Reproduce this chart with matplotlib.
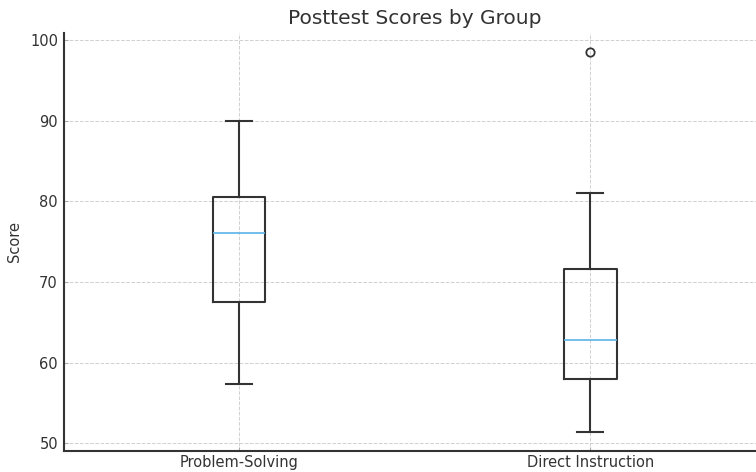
import matplotlib
matplotlib.use("Agg")
import matplotlib.pyplot as plt

# box statistics
groups = ["Problem-Solving", "Direct Instruction"]
whislo = [57.3, 51.4]
q1 = [67.5, 58.0]
med = [76.1, 62.8]
q3 = [80.6, 71.6]
whishi = [90.0, 81.0]
fliers = [[], [98.6]]

stats = []
for i, g in enumerate(groups):
    stats.append({
        "label": g,
        "whislo": whislo[i],
        "q1": q1[i],
        "med": med[i],
        "q3": q3[i],
        "whishi": whishi[i],
        "fliers": fliers[i],
    })

text_col = "#333333"
plt.rcParams["font.family"] = "DejaVu Sans"

fig = plt.figure(figsize=(7.56, 4.72), dpi=100)
ax = fig.add_axes([0.084, 0.0445, 0.929, 0.8865])

ax.bxp(
    stats,
    boxprops=dict(color="#333333", linewidth=1.5),
    whiskerprops=dict(color="#333333", linewidth=1.5),
    capprops=dict(color="#333333", linewidth=1.5),
    medianprops=dict(color="#5ab4e8", linewidth=1.2),
    flierprops=dict(marker="o", markerfacecolor="none", markeredgecolor="#333333",
                    markersize=6, markeredgewidth=1.3),
)

ax.set_title("Posttest Scores by Group", fontsize=14.5, color=text_col, pad=6)
ax.set_ylabel("Score", fontsize=10.5, color=text_col, labelpad=6)
ax.grid(True, linestyle="--", linewidth=0.7, color="#d0d0d0")
ax.set_axisbelow(True)
for s in ["top", "right"]:
    ax.spines[s].set_visible(False)
for s in ["left", "bottom"]:
    ax.spines[s].set_color("#333333")
    ax.spines[s].set_linewidth(1.5)
ax.tick_params(axis="both", direction="in", labelsize=10.5, labelcolor=text_col,
               color="#aaaaaa", length=3, width=0.8)
ax.tick_params(axis="y", pad=4)
ax.tick_params(axis="x", pad=3)

fig.savefig("out.png", dpi=100)
